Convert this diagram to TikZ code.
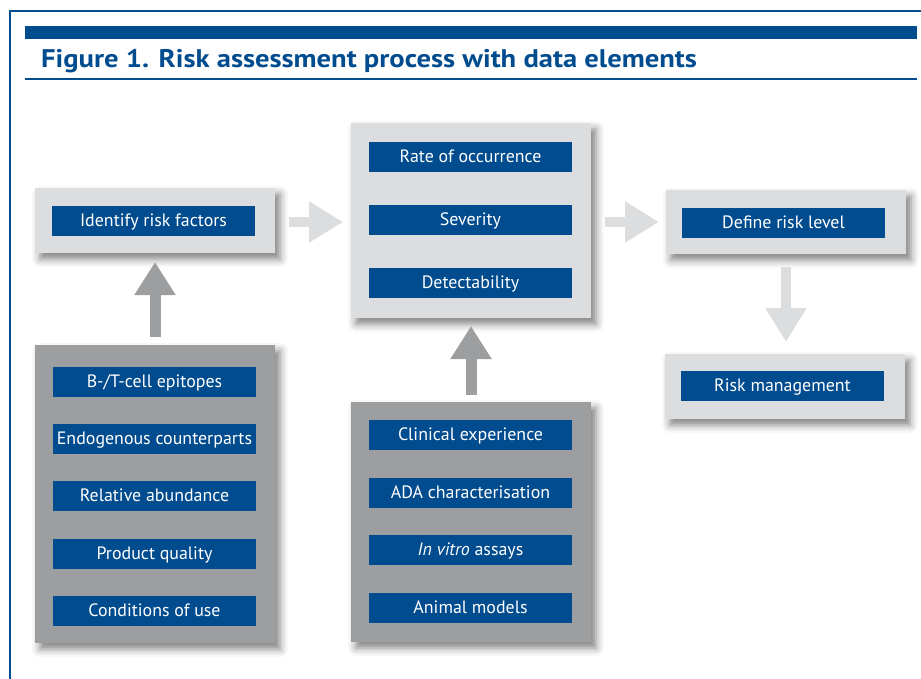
\documentclass[tikz,border=0pt]{standalone}
\usepackage{fontspec}
\setmainfont{PT Sans}
\usetikzlibrary{shadows.blur,arrows.meta,calc}
\definecolor{ebl}{RGB}{0,76,143}
\definecolor{lgr}{RGB}{220,221,223}
\definecolor{dgr}{RGB}{157,158,160}
\tikzset{
  panel/.style={rectangle, inner sep=0pt, outer sep=0pt, minimum width=240pt,
    blur shadow={shadow xshift=5pt, shadow yshift=-6pt, shadow blur radius=8pt, shadow opacity=50}},
  lpanel/.style={panel, fill=lgr},
  dpanel/.style={panel, fill=dgr},
  item/.style={rectangle, fill=ebl, text=white, inner sep=0pt, minimum width=203pt,
    minimum height=30pt, text height=11.5pt, text depth=0.5pt, font=\fontsize{17.9}{21}\selectfont},
  lblock/.style={draw=lgr, line width=10pt, -{Triangle[length=34pt,width=39pt]}},
  dblock/.style={draw=dgr, line width=11pt, -{Triangle[length=33pt,width=39pt]}},
}
\begin{document}
\begin{tikzpicture}[x=1pt,y=-1pt]
\useasboundingbox (0,0) rectangle (921,678);
% frame and header
\draw[ebl, line width=2pt] (10,700) -- (10,11) -- (940,11);
\fill[ebl] (25,26) rectangle (917,39);
\node[anchor=base west, inner sep=0pt, text=ebl, font=\fontsize{25.5}{30}\selectfont\bfseries] (title) at (41,67) {\scalebox{1.12}[1]{Figure 1. Risk assessment process with data elements}};
\draw[ebl, line width=1.5pt] (25,79) -- (917,79);
% panels
\node[lpanel, minimum height=65pt] (idf) at (155,220.5) {};
\node[lpanel, minimum height=195pt] (mid) at (471,220.5) {};
\node[lpanel, minimum height=64pt] (def) at (786,222) {};
\node[lpanel, minimum height=65pt] (rm) at (785,386.5) {};
\node[dpanel, minimum height=298pt] (fac) at (155,494) {};
\node[dpanel, minimum height=240pt] (dat) at (471,522) {};
% items
\node[item] (idfi) at (153.5,221) {Identify risk factors};
\node[item] (m1) at (470.5,157) {Rate of occurrence};
\node[item] (m2) at (470.5,220) {Severity};
\node[item] (m3) at (470.5,283) {Detectability};
\node[item] (defi) at (783.5,223) {Define risk level};
\node[item] (rmi) at (782.5,386) {Risk management};
\node[item] (f1) at (154.5,382) {B-/T-cell epitopes};
\node[item] (f2) at (154.5,439) {Endogenous counterparts};
\node[item] (f3) at (154.5,496) {Relative abundance};
\node[item] (f4) at (154.5,554) {Product quality};
\node[item] (f5) at (154.5,611) {Conditions of use};
\node[item] (d1) at (470.5,435) {Clinical experience};
\node[item] (d2) at (470.5,493) {ADA characterisation};
\node[item] (d3) at (470.5,550) {\textit{In vitro} assays};
\node[item] (d4) at (470.5,607.5) {Animal models};
% arrows
\draw[lblock] ($(idf.east)+(14,1.5)$) -- ($(idf.east -| mid.west)+(-8,1.5)$);
\draw[lblock] ($(mid.east)+(14,1.5)$) -- ($(def.west)+(-7,0)$);
\draw[lblock] ($(def.south)+(0,13)$) -- ($(def.south |- rm.north)+(0,-12)$);
\draw[dblock] ($(fac.north)+(0,-8)$) -- ($(idf.south)+(0,9)$);
\draw[dblock] ($(dat.north)+(0,-7)$) -- ($(mid.south)+(0,8)$);
\end{tikzpicture}
\end{document}
